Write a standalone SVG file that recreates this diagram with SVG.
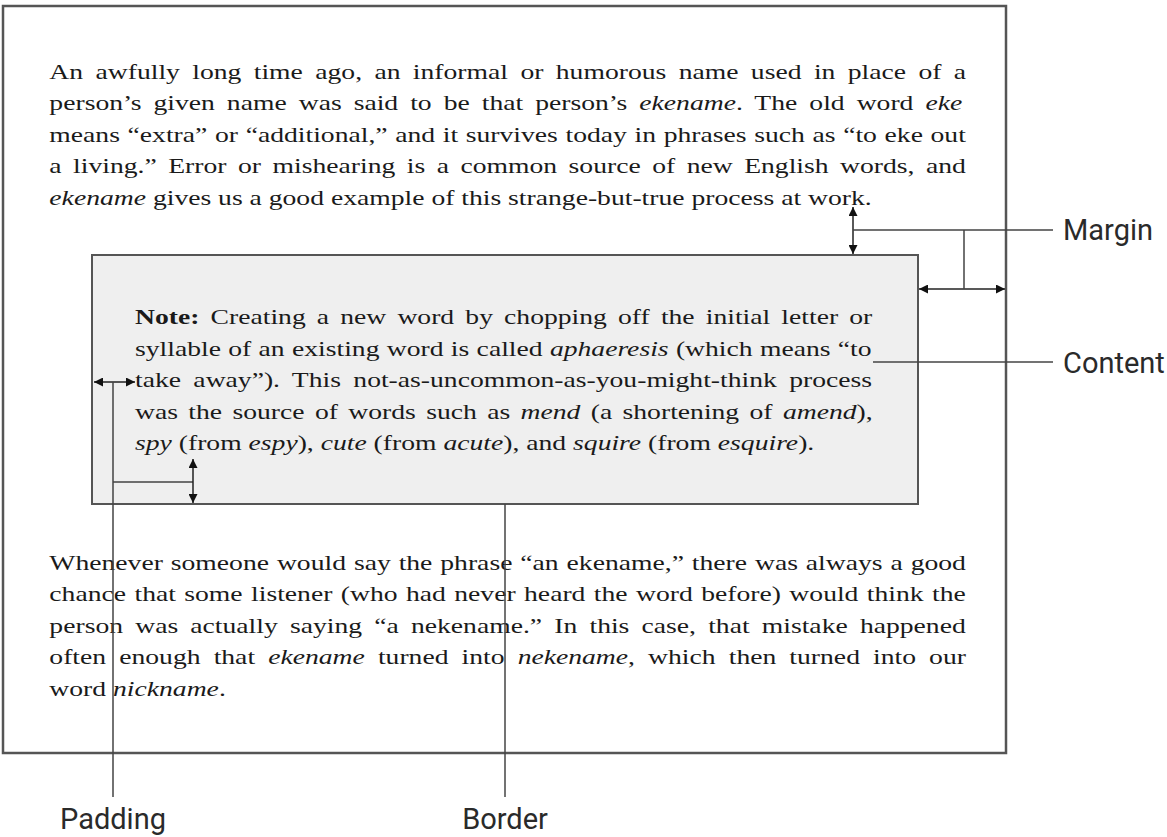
<svg xmlns="http://www.w3.org/2000/svg" width="1167" height="837" viewBox="0 0 1167 837">
<style>
.t { font-family: "Liberation Serif", "Times New Roman", serif; font-size: 22px; fill: #1a1a1a; }
.i { font-style: italic; }
.b { font-weight: bold; }
.lbl { font-family: Roboto, "Liberation Sans", sans-serif; font-size: 29px; fill: #2a2a2a; }
.c { stroke: #444; stroke-width: 1.5; fill: none; }
.a { stroke: #222; stroke-width: 1.5; fill: none; marker-start: url(#ah); marker-end: url(#ah); }
</style>
<defs>
<marker id="ah" viewBox="0 0 10 10" refX="10" refY="5" markerWidth="9" markerHeight="9" markerUnits="userSpaceOnUse" orient="auto-start-reverse">
<path d="M0,0 L10,5 L0,10 z" fill="#111"/>
</marker>
</defs>
<rect width="1167" height="837" fill="#fff"/>

<g id="page">
<rect x="3" y="6" width="1003" height="747" fill="#fff" stroke="#555" stroke-width="2.5"/>
</g>

<g id="para1" class="t" transform="scale(1.256 1)">
<text x="39.3" y="79" style="word-spacing:4.36px">An awfully long time ago, an informal or humorous name used in place of a</text>
<text x="39.3" y="110.5" style="word-spacing:4.07px">person’s given name was said to be that person’s <tspan class="i">ekename</tspan>. The old word <tspan class="i">eke</tspan></text>
<text x="39.3" y="142" style="word-spacing:0.6px">means “extra” or “additional,” and it survives today in phrases such as “to eke out</text>
<text x="39.3" y="173.5" style="word-spacing:3.65px">a living.” Error or mishearing is a common source of new English words, and</text>
<text x="39.3" y="205"><tspan class="i">ekename</tspan> gives us a good example of this strange-but-true process at work.</text>
</g>

<g id="note-box">
<rect x="92" y="255" width="826" height="249" fill="#efefef" stroke="#555" stroke-width="2"/>
<g class="t" transform="scale(1.256 1)">
<text x="107.5" y="324.5" style="word-spacing:3.37px"><tspan class="b">Note:</tspan> Creating a new word by chopping off the initial letter or</text>
<text x="107.5" y="356" style="word-spacing:0.33px">syllable of an existing word is called <tspan class="i">aphaeresis</tspan> (which means “to</text>
<text x="107.5" y="387.5" style="word-spacing:4.33px">take away”). This not-as-uncommon-as-you-might-think process</text>
<text x="107.5" y="419" style="word-spacing:2.75px">was the source of words such as <tspan class="i">mend</tspan> (a shortening of <tspan class="i">amend</tspan>),</text>
<text x="107.5" y="450.5"><tspan class="i">spy</tspan> (from <tspan class="i">espy</tspan>), <tspan class="i">cute</tspan> (from <tspan class="i">acute</tspan>), and <tspan class="i">squire</tspan> (from <tspan class="i">esquire</tspan>).</text>
</g>
</g>

<g id="para3" class="t" transform="scale(1.256 1)">
<text x="39.3" y="570" style="word-spacing:0.81px">Whenever someone would say the phrase “an ekename,” there was always a good</text>
<text x="39.3" y="601.5" style="word-spacing:1.21px">chance that some listener (who had never heard the word before) would think the</text>
<text x="39.3" y="633" style="word-spacing:4.2px">person was actually saying “a nekename.” In this case, that mistake happened</text>
<text x="39.3" y="664.5" style="word-spacing:4.93px">often enough that <tspan class="i">ekename</tspan> turned into <tspan class="i">nekename</tspan>, which then turned into our</text>
<text x="39.3" y="696">word <tspan class="i">nickname</tspan>.</text>
</g>

<g id="connectors">
<path class="a" d="M853,207 V254"/>
<path class="a" d="M919,289 H1005"/>
<path class="c" d="M853,230 H1053 M964,230 V289"/>
<path class="c" d="M873,362 H1053"/>
<path class="a" d="M94,382 H135"/>
<path class="c" d="M113,382 V797 M113,482 H193"/>
<path class="a" d="M193,459 V503"/>
<path class="c" d="M505,504 V797"/>
</g>

<g id="label-margin"><text class="lbl" x="1063" y="239.5">Margin</text></g>
<g id="label-content"><text class="lbl" x="1063" y="372.5">Content</text></g>
<g id="label-padding"><text class="lbl" x="113" y="829" text-anchor="middle">Padding</text></g>
<g id="label-border"><text class="lbl" x="505" y="829" text-anchor="middle">Border</text></g>
</svg>
